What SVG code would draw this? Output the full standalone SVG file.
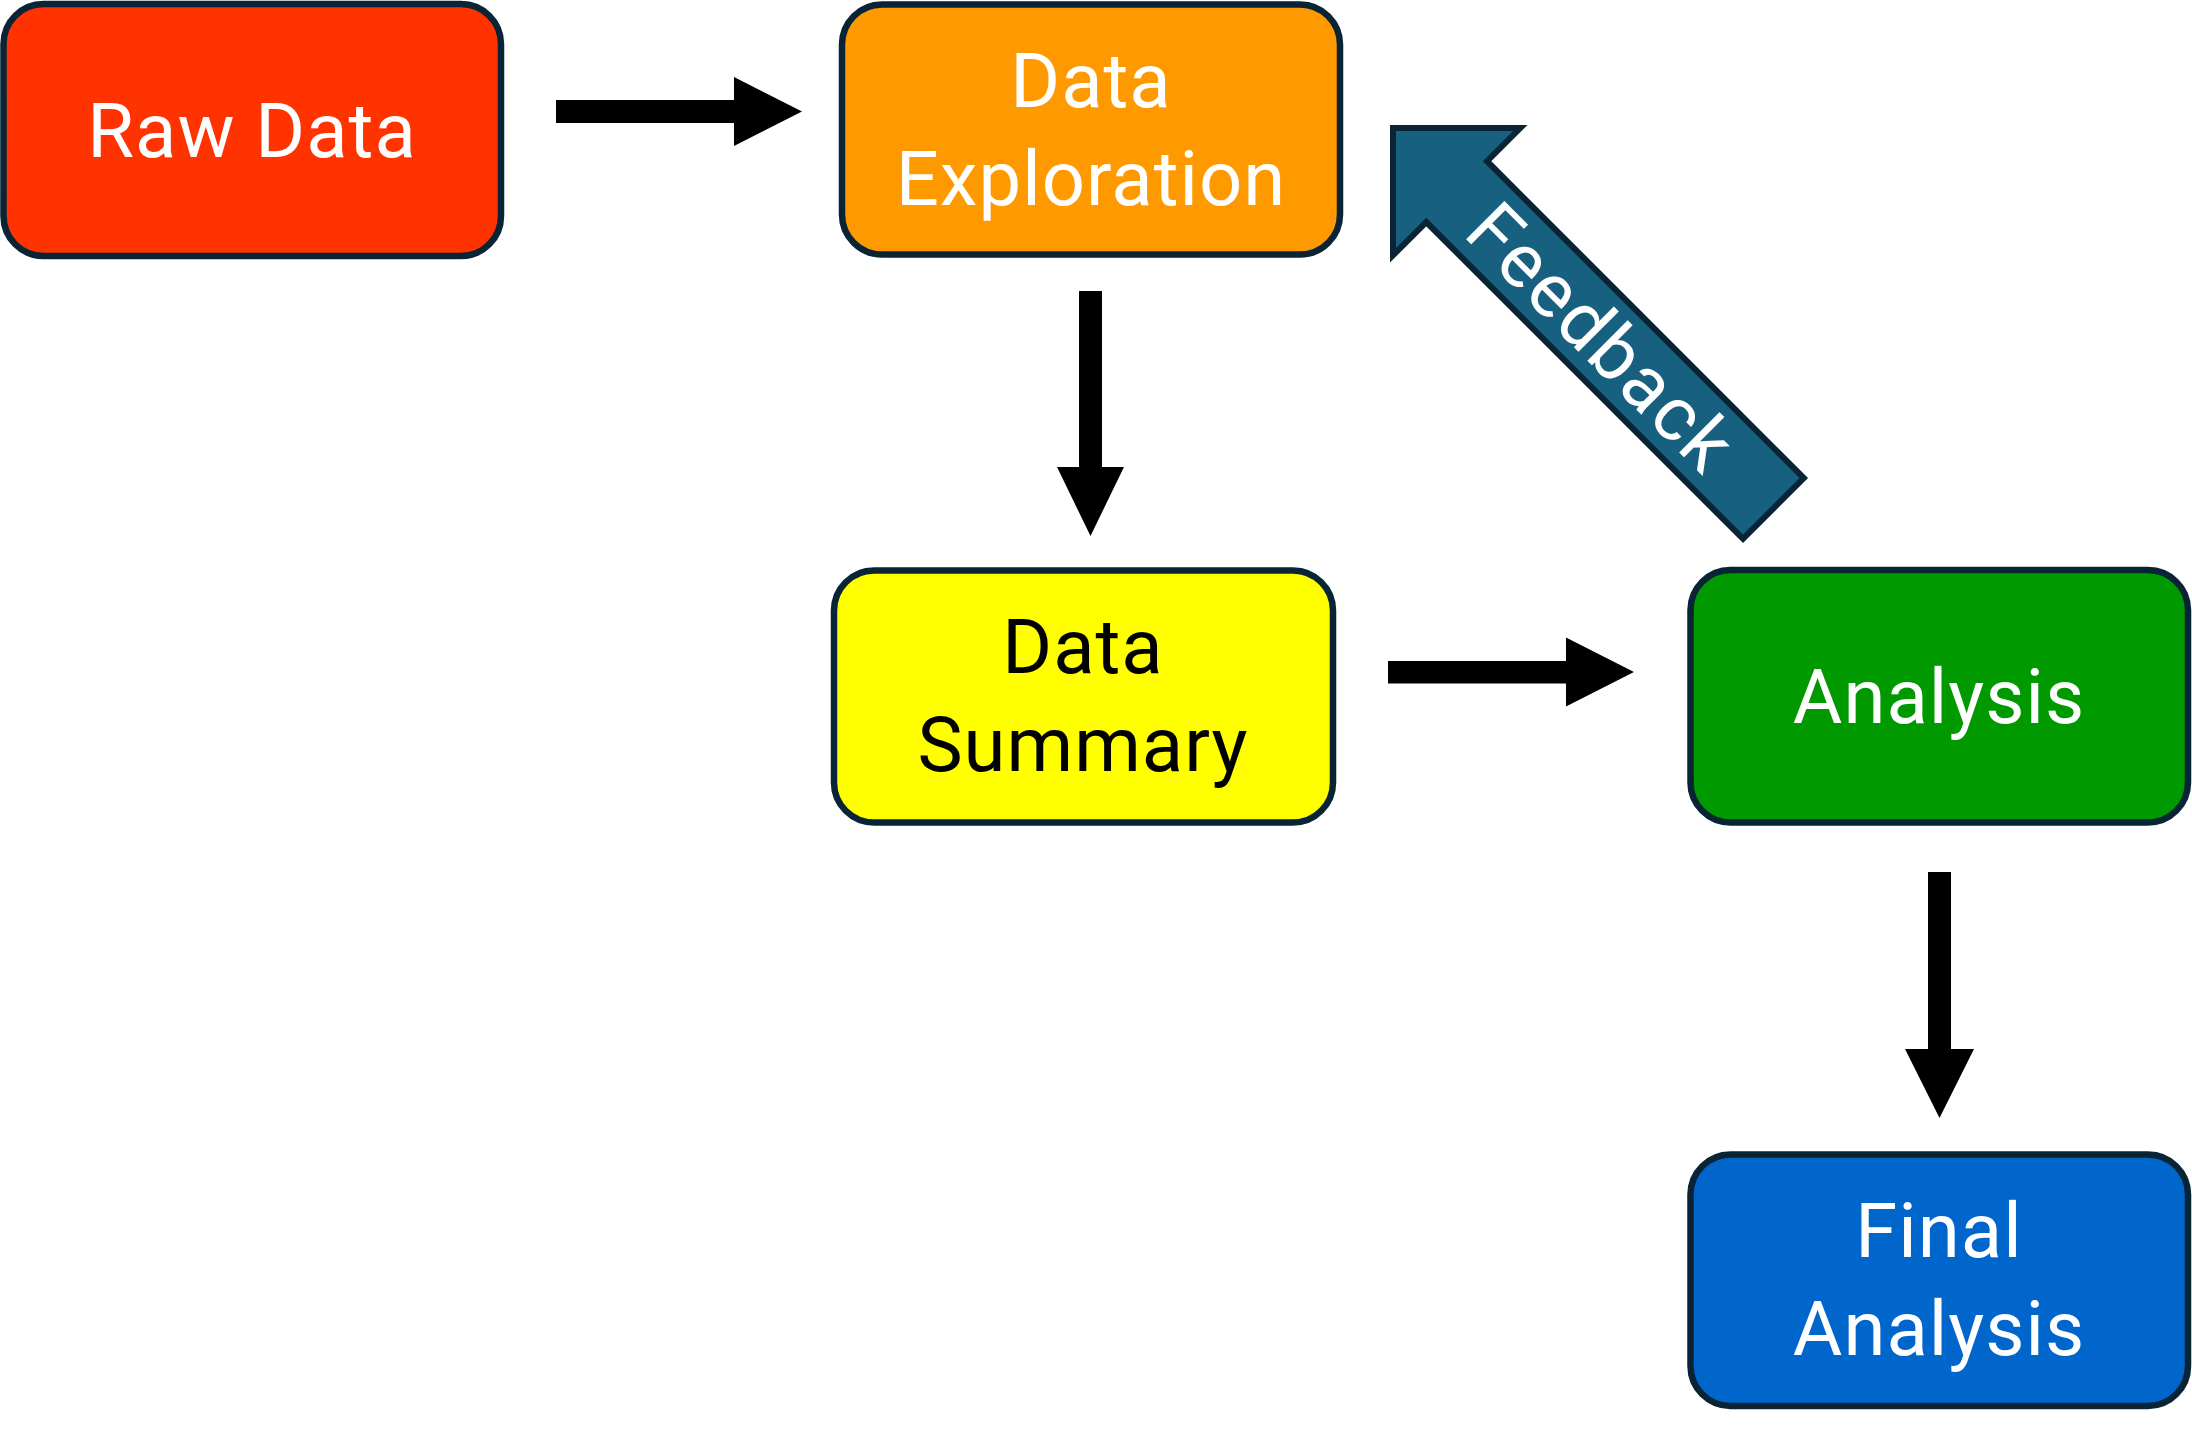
<svg xmlns="http://www.w3.org/2000/svg" width="2192" height="1429" viewBox="0 0 2192 1429">
<style>
.box{stroke:#082435;stroke-width:6.5}
.lbl{font-family:Roboto,"Liberation Sans",sans-serif;font-size:76px;text-anchor:middle;fill:#ffffff;letter-spacing:1px}
.dark{fill:#000000}
.conn{fill:#000000}
</style>
<rect width="2192" height="1429" fill="#ffffff"/>
<g id="raw-data">
<rect class="box" x="3.5" y="4" width="497.5" height="252" rx="40" fill="#FF3300"/>
<text class="lbl" x="252" y="157">Raw Data</text>
</g>
<g id="data-exploration">
<rect class="box" x="842" y="4.5" width="498" height="250" rx="40" fill="#FF9900"/>
<text class="lbl" x="1091" y="107">Data</text>
<text class="lbl" x="1091" y="205">Exploration</text>
</g>
<g id="data-summary">
<rect class="box" x="834" y="570.5" width="499" height="252" rx="40" fill="#FFFF00"/>
<text class="lbl dark" x="1083" y="673">Data</text>
<text class="lbl dark" x="1083" y="771">Summary</text>
</g>
<g id="analysis">
<rect class="box" x="1690.5" y="570" width="497.5" height="252.5" rx="40" fill="#009900"/>
<text class="lbl" x="1939" y="723">Analysis</text>
</g>
<g id="final-analysis">
<rect class="box" x="1690.5" y="1154.5" width="497.5" height="251.5" rx="40" fill="#0066CC"/>
<text class="lbl" x="1939" y="1257">Final</text>
<text class="lbl" x="1939" y="1355">Analysis</text>
</g>
<g id="feedback">
<polygon transform="translate(1393,128) rotate(225)" points="0,0 -90,-90 -90,-43 -538,-43 -538,43 -90,43 -90,90" fill="#17607F" stroke="#082435" stroke-width="6" stroke-linejoin="miter"/>
<text class="lbl" transform="translate(1602,337) rotate(45)" x="0" y="27" style="letter-spacing:2px">Feedback</text>
</g>
<g id="connectors">
<polygon class="conn" points="556,100 734,100 734,77 802,111.5 734,146 734,123 556,123"/>
<polygon class="conn" points="1079,291 1102,291 1102,467 1124,467 1090.5,536 1057,467 1079,467"/>
<polygon class="conn" points="1388,661 1566,661 1566,637.5 1634,672 1566,706.5 1566,683.5 1388,683.5"/>
<polygon class="conn" points="1928,872 1951,872 1951,1049 1974,1049 1939.5,1118 1905,1049 1928,1049"/>
</g>
</svg>
